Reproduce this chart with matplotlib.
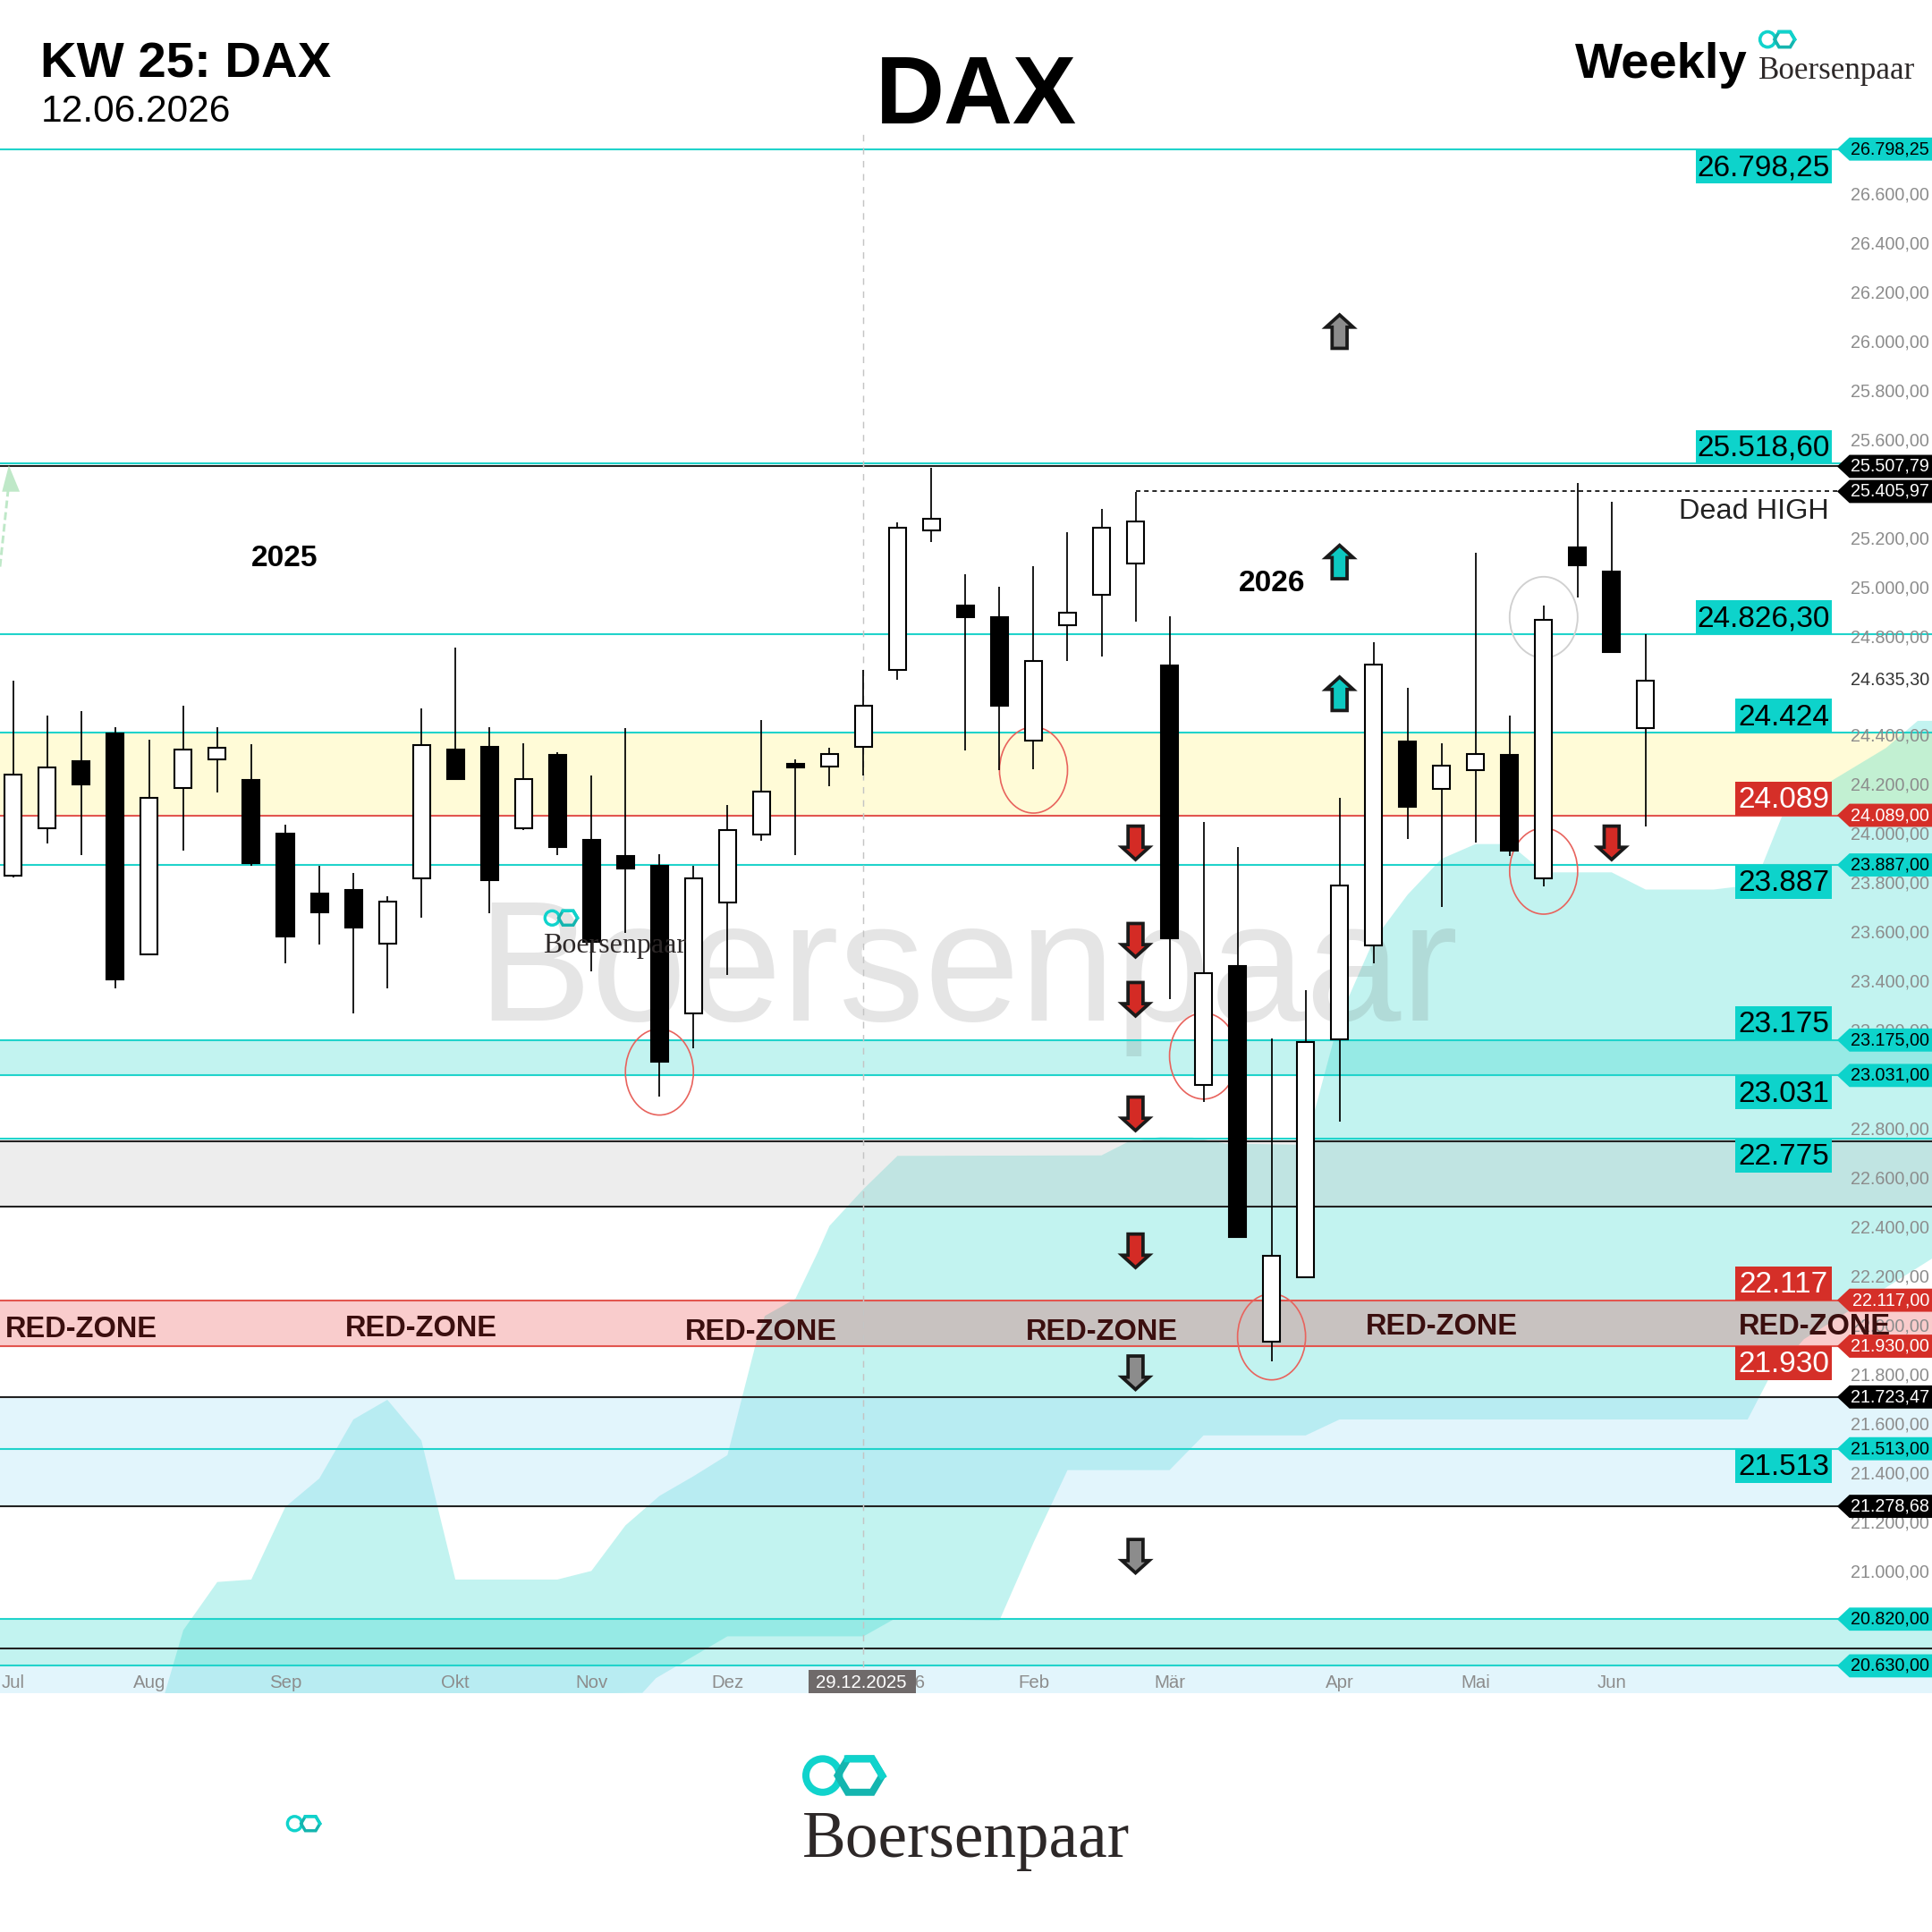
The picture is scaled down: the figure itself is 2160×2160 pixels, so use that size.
import matplotlib
matplotlib.use("Agg")
import matplotlib.pyplot as plt
import numpy as np
from matplotlib.patches import Circle, Ellipse, Polygon, Rectangle
from matplotlib.lines import Line2D
from matplotlib.transforms import Affine2D, blended_transform_factory

plt.rcParams['font.family'] = ['Liberation Sans', 'DejaVu Sans']

# weekly candles, Jul 2025 - Jun 2026
opens = [23844, 24035, 24310, 24423, 23523, 24200, 24315, 24232, 24013, 23770, 23786, 23566,
         23833, 24356, 24369, 24035, 24334, 23989, 23922, 23885, 23282, 23733, 24011, 24299,
         24289, 24367, 24679, 25249, 24943, 24893, 24392, 24863, 24985, 25112, 24698, 22994,
         23477, 21947, 22210, 23178, 23558, 24388, 24195, 24273, 24334, 23833, 25178, 25082, 24443]
highs = [24638, 24494, 24514, 24447, 24395, 24536, 24447, 24377, 24050, 23885, 23853, 23759,
         24525, 24770, 24447, 24382, 24345, 24250, 24442, 23931, 23885, 24132, 24477, 24317,
         24364, 24679, 25281, 25503, 25071, 25019, 25102, 25240, 25334, 25403, 24900, 24063,
         23961, 23183, 23378, 24161, 24792, 24609, 24382, 25156, 24495, 24943, 25440, 25364, 24824]
lows = [23835, 23974, 23926, 23386, 23523, 23944, 24182, 23885, 23486, 23564, 23285, 23386,
        23671, 24236, 23690, 24028, 23926, 23456, 23612, 22944, 23142, 23438, 23985, 23926,
        24206, 24252, 24640, 25199, 24353, 24271, 24276, 24716, 24735, 24878, 23343, 22925,
        22375, 21869, 22210, 22844, 23486, 23991, 23716, 23978, 23922, 23801, 24974, 24753, 24044]
closes = [24254, 24284, 24213, 23423, 24160, 24356, 24362, 23896, 23595, 23696, 23634, 23738,
          24375, 24236, 23825, 24237, 23959, 23575, 23874, 23087, 23833, 24030, 24184, 24282,
          24338, 24534, 25260, 25295, 24895, 24534, 24718, 24913, 25260, 25284, 23588, 23447,
          22375, 22299, 23167, 23803, 24701, 24122, 24291, 24338, 23944, 24885, 25104, 24753, 24636]

# cloud edges (week index, price)
upper_x = [4.46, 5, 6, 7, 8, 9, 10, 11, 12, 13, 16, 17, 18, 19, 20, 21, 21.45, 21.85, 22.1, 23, 23.66,
           24, 25, 26, 32, 32.75, 33.73, 34.67, 35.65, 38, 39, 40, 41, 42, 43, 44, 45, 47, 48, 50,
           51.2, 52, 53.44, 55.07, 56, 56.5]
upper_y = [20520, 20775, 20971, 20981, 21276, 21392, 21632, 21712, 21547, 20981, 20981, 21016, 21201,
           21321, 21401, 21487, 21732, 21948, 22053, 22123, 22313, 22419, 22569, 22704, 22706, 22759,
           22781, 22779, 22754, 22749, 23265, 23581, 23766, 23912, 23972, 23972, 23857, 23857, 23787,
           23787, 23807, 24082, 24227, 24363, 24473, 24473]
lower_x = [4.46, 18.5, 18.9, 21, 25, 25.9, 29, 30, 31, 34, 35, 38, 39, 51, 51.6, 52.65, 56.5]
lower_y = [20500, 20520, 20580, 20750, 20750, 20820, 20815, 21131, 21426, 21426, 21567, 21567, 21632,
           21632, 21792, 21958, 22293]

teal_levels = [26798.25, 25518.60, 24826.30, 24424, 23887, 23175, 23031, 22775, 21513, 20820, 20630]
red_levels = [24089, 22117, 21930]
black_levels = [25507.79, 22764, 22499, 21723.47, 21278.68, 20700]
dead_high = 25405.97

axis_ticks = [26600, 26400, 26200, 26000, 25800, 25600, 25200, 25000, 24800, 24400, 24200, 24000, 23800,
              23600, 23400, 23200, 22800, 22600, 22400, 22200, 22000, 21800, 21600, 21400, 21200, 21000]
month_names = ['Jul', 'Aug', 'Sep', 'Okt', 'Nov', 'Dez', '2026', 'Feb', 'Mär', 'Apr', 'Mai', 'Jun']
month_weeks = [0, 4, 8, 13, 17, 21, 26.2, 30, 34, 39, 43, 47]

teal_tags = [26798.25, 23887, 23175, 23031, 21513, 20820, 20630]
black_tags = [25507.79, 25405.97, 21723.47, 21278.68]
red_tags = [24089, 22117, 21930]

box_text = ['26.798,25', '25.518,60', '24.826,30', '24.424', '24.089', '23.887',
            '23.175', '23.031', '22.775', '22.117', '21.930', '21.513']
box_price = [26798.25, 25518.60, 24826.30, 24424, 24089, 23887, 23175, 23031, 22775, 22117, 21930, 21513]
box_is_red = [False, False, False, False, True, False, False, False, False, True, True, False]
box_above = [False, True, True, True, True, False, True, False, False, True, False, False]

down_red = [23977, 23581, 23341, 22875, 22318]
down_grey = [21822, 21076]
up_teal = [25119, 24583]
up_grey = [26056]
last_red = 23977

ring_week = [30, 19, 35, 37, 45]
ring_price = [24273, 23045, 23110, 21968, 23862]

TEAL = '#0dd3cb'
RED = '#d52f28'

fig = plt.figure(figsize=(7.2, 7.2), dpi=300)
ax = fig.add_axes([0, (1568 - 1374) / 1568, 1, (1374 - 108) / 1568])
ax.set_xlim(-0.39, 56.42)
ax.set_ylim(20519.7, 26863.4)
ax.axis('off')

# dt: coordinates on the 1568 grid I measured on, y down. bt: same x, price y
dt = Affine2D().scale(2160 / 1568, -2160 / 1568).translate(0, 2160)
bt = blended_transform_factory(dt, ax.transData)

# zones
ax.axhspan(24089, 24424, color='#ffeb3b', alpha=0.2, lw=0, zorder=1)
ax.axhspan(23031, 23175, color='#20d5c8', alpha=0.27, lw=0, zorder=1)
ax.axhspan(20630, 20820, color='#20d5c8', alpha=0.27, lw=0, zorder=1)

# cloud
cx = np.array(upper_x + lower_x[::-1])
cy = np.array(upper_y + lower_y[::-1])
ax.add_patch(Polygon(np.column_stack([cx, cy]), closed=True, fc='#20d5c8', alpha=0.27, lw=0, zorder=2))
ax.axhspan(21930, 22117, color='#e10000', alpha=0.2, lw=0, zorder=3)
ax.axhspan(22499, 22764, color='#bbbbbb', alpha=0.25, lw=0, zorder=3)
ax.axhspan(21278.68, 21723.47, color='#a2def8', alpha=0.3, lw=0, zorder=3)
ax.axhspan(20510, 20630, color='#a2def8', alpha=0.3, lw=0, zorder=3)

# watermark
ax.text(785, 828, 'Boersenpaar', transform=dt, fontsize=46, color='#555555', alpha=0.15,
        ha='center', va='baseline', zorder=3.5)

# level lines
ax.hlines(teal_levels, -1, 57, color='#20d3cb', lw=0.5, zorder=4)
ax.hlines(red_levels, -1, 57, color='#e2564f', lw=0.5, zorder=4)
ax.hlines(black_levels, -1, 57, color='#222222', lw=0.5, zorder=4)
ax.plot([33, 56], [dead_high, dead_high], color='black', lw=0.4, ls=(0, (3, 2.5)), zorder=4)
ax.plot([25, 25], [20519, 26863], color='#c4c4c4', lw=0.35, ls=(0, (5, 5)), zorder=4)

# rings go behind the candles
for w, p in zip(ring_week, ring_price):
    ax.add_patch(Ellipse((w, p), 2.0, 350, fc='none', ec='#e8635d', lw=0.4, zorder=4.5))
ax.add_patch(Ellipse((45, 24894), 2.0, 330, fc='none', ec='#d0d0d0', lw=0.45, zorder=4.5))

# candles
weeks = np.arange(len(opens))
o = np.array(opens)
c = np.array(closes)
ax.vlines(weeks, lows, highs, color='black', lw=0.42, zorder=5)
up = c > o
ax.bar(weeks[up], (c - o)[up], bottom=o[up], width=0.5, fc='white', ec='black', lw=0.5, zorder=6)
ax.bar(weeks[~up], (o - c)[~up], bottom=c[~up], width=0.5, fc='black', ec='black', lw=0.5, zorder=6)


def block_arrow(week, price, color, down=True):
    s = 1 if down else -1
    hw, sw, hh = 0.4, 0.22, 50
    top, tip = price + s * 68, price - s * 68
    neck = tip + s * hh
    pts = [(week - sw, top), (week + sw, top), (week + sw, neck), (week + hw, neck),
           (week, tip), (week - hw, neck), (week - sw, neck)]
    ax.add_patch(Polygon(pts, closed=True, fc=color, ec='#1a1a1a', lw=0.9, zorder=7))


for p in down_red:
    block_arrow(33, p, '#d42b25')
block_arrow(47, last_red, '#d42b25')
for p in down_grey:
    block_arrow(33, p, '#8c8c8c')
for p in up_teal:
    block_arrow(39, p, '#0dc9c1', down=False)
for p in up_grey:
    block_arrow(39, p, '#8c8c8c', down=False)

# green dashed arrow at the left edge
ax.plot([-0.39, -0.13], [25100, 25440], color='#bfe8c8', lw=0.7, ls=(0, (3, 1.5)), zorder=4)
ax.add_patch(Polygon([(-0.13, 25512), (0.19, 25405), (-0.33, 25405)], closed=True, fc='#bfe8c8', lw=0, zorder=4))

# axis labels
for t in axis_ticks:
    s = f'{t:,.2f}'.replace(',', 'X').replace('.', ',').replace('X', '.')
    ax.text(1566, t + 10, s, transform=bt, fontsize=4.75, color='#8c8c8c', ha='right', va='center', zorder=7)
ax.text(1566, 24640, '24.635,30', transform=bt, fontsize=4.75, color='#333333', ha='right', va='center', zorder=7)

for w, name in zip(month_weeks, month_names):
    x = 10.8 + w * 27.6
    ax.text(x, 1366, name, transform=dt, fontsize=4.9, color='#8c8c8c', ha='center', va='center', zorder=7)
ax.add_patch(Rectangle((656, 1355), 87, 19, transform=dt, fc='#6f6a6a', lw=0, zorder=8, clip_on=False))
ax.text(699, 1366, '29.12.2025', transform=dt, fontsize=4.9, color='white', ha='center', va='center', zorder=9)


def right_tag(price, color, tcolor):
    h = 47
    s = f'{price:,.2f}'.replace(',', 'X').replace('.', ',').replace('X', '.')
    pts = [(1491, price), (1501, price + h), (1568, price + h), (1568, price - h), (1501, price - h)]
    ax.add_patch(Polygon(pts, closed=True, transform=bt, fc=color, lw=0, zorder=8, clip_on=False))
    ax.text(1566, price, s, transform=bt, fontsize=4.75, color=tcolor, ha='right', va='center', zorder=9)


for p in teal_tags:
    right_tag(p, TEAL, 'black')
for p in black_tags:
    right_tag(p, 'black', 'white')
for p in red_tags:
    right_tag(p, RED, 'white')

# big price boxes sitting on their level line
for txt, p, red, above in zip(box_text, box_price, box_is_red, box_above):
    left = 1376 if len(txt) > 6 else 1408
    fc = RED if red else TEAL
    y0 = p if above else p - 138
    ax.add_patch(Rectangle((left, y0), 1487 - left, 138, transform=bt, fc=fc, lw=0, zorder=7, clip_on=False))
    ax.text((left + 1487) / 2, y0 + 75, txt, transform=bt, fontsize=8, color='white' if red else 'black',
            ha='center', va='center_baseline', zorder=8)

# texts
for x, y in zip([66, 342, 618, 894, 1170, 1473], [1079, 1078, 1081, 1081, 1077, 1077]):
    ax.text(x, y, 'RED-ZONE', transform=dt, fontsize=7.85, fontweight='bold', color='#3b0f0f',
            ha='center', va='center', zorder=8)
ax.text(231, 453, '2025', transform=dt, fontsize=8, fontweight='bold', ha='center', va='center', zorder=8)
ax.text(1032, 474, '2026', transform=dt, fontsize=8, fontweight='bold', ha='center', va='center', zorder=8)
ax.text(1484, 415, 'Dead HIGH', transform=dt, fontsize=7.8, color='#222222', ha='right', va='center', zorder=8)

ax.text(33, 63, 'KW 25: DAX', transform=dt, fontsize=13.5, fontweight='bold', va='baseline')
ax.text(33, 99, '12.06.2026', transform=dt, fontsize=10.2, va='baseline')
ax.text(792, 100, 'DAX', transform=dt, fontsize=25.6, fontweight='bold', ha='center', va='baseline')
ax.text(1278, 63, 'Weekly', transform=dt, fontsize=13.5, fontweight='bold', va='baseline')


def logo(x0, yc, w, text_size=None, text_y=None):
    lw = 0.085 * w * (2160 / 1568) * 72 / 300
    fig.add_artist(Circle((x0 + 0.245 * w, yc), 0.2 * w, transform=dt, fc='none', ec='#10d3cc', lw=lw))
    cx2 = x0 + 0.69 * w
    r = 0.265 * w
    hex_pts = [(cx2 + r, yc), (cx2 + r * 0.55, yc - 0.2 * w), (cx2 - r * 0.55, yc - 0.2 * w),
               (cx2 - r, yc), (cx2 - r * 0.55, yc + 0.2 * w), (cx2 + r * 0.55, yc + 0.2 * w)]
    fig.add_artist(Polygon(hex_pts, closed=True, transform=dt, fc='none', ec='#14b5af', lw=lw, joinstyle='miter'))
    fig.add_artist(Line2D([hex_pts[2][0], hex_pts[1][0], hex_pts[0][0]], [hex_pts[2][1], hex_pts[1][1], hex_pts[0][1]],
                          transform=dt, color='#10d3cc', lw=lw, solid_joinstyle='miter'))
    if text_size:
        fig.text(x0, text_y, 'Boersenpaar', transform=dt, fontsize=text_size, family='Liberation Serif',
                 color='#2d2828', va='baseline', zorder=10)


logo(1427, 32, 31, 8.4, 64)
logo(441, 745, 29, 7.7, 773)
logo(232, 1480, 29)
logo(651, 1441, 68, 17.6, 1507)

fig.savefig('out.png', dpi=300, facecolor='white')
